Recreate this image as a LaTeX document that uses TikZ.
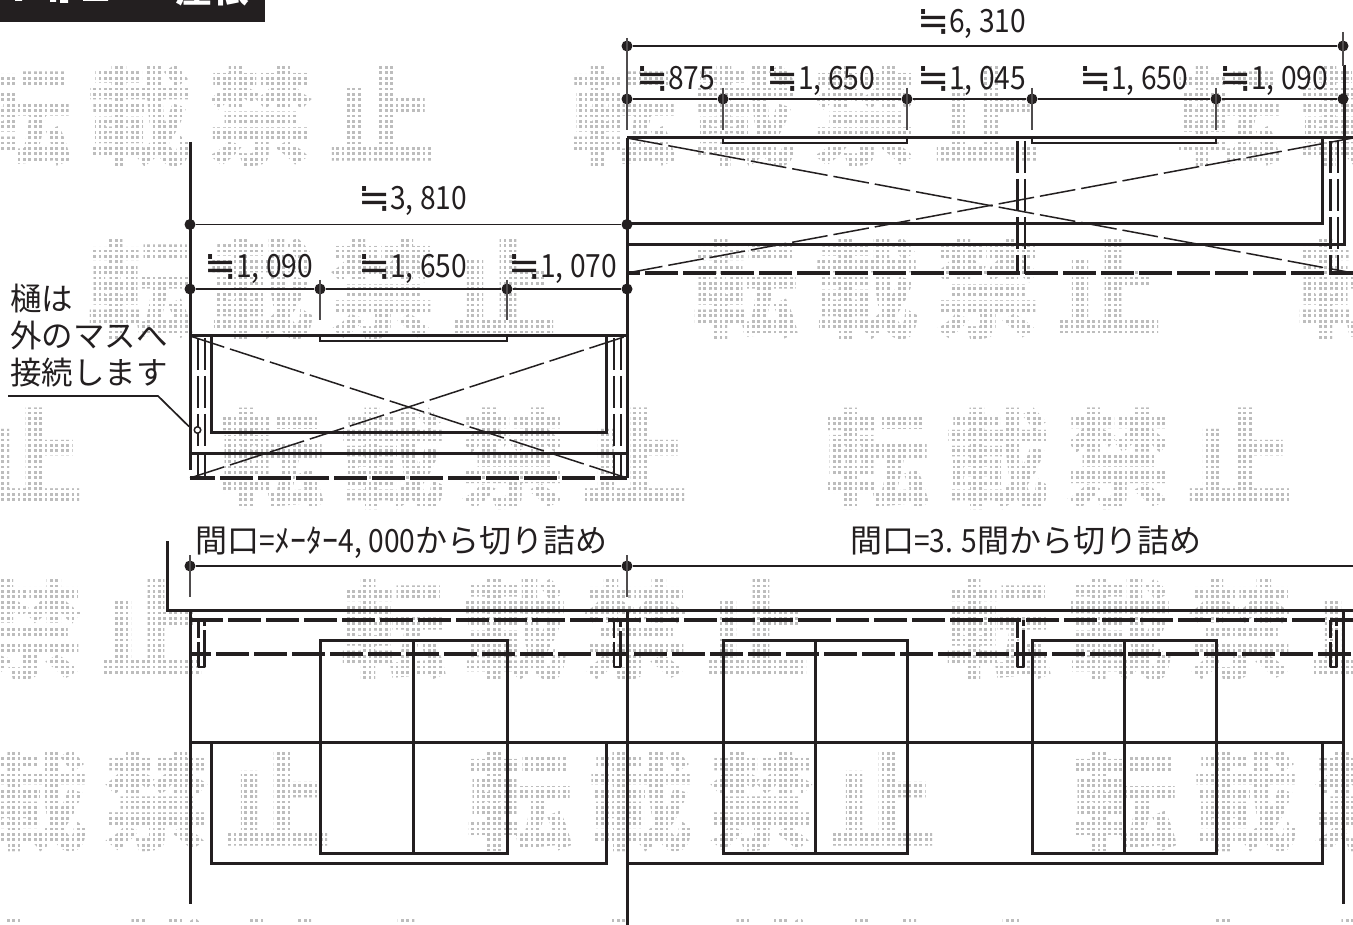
\documentclass[tikz,border=0pt]{standalone}
\usepackage{fontspec}
\newfontfamily\jp{Noto Sans CJK JP}
\newfontfamily\num[FakeStretch=0.88]{Noto Sans CJK JP}
\newfontfamily\sym{DejaVu Sans}
\definecolor{ink}{HTML}{231F20}
\newcommand{\dimtxt}[1]{\makebox[0.98em][c]{\sym\raisebox{-1.2pt}{\scalebox{1.2}[1.25]{≒}}}{\num #1}}
\newcommand{\wmark}{{\jp\bfseries 転\hskip 14pt 載\hskip 14pt 禁\hskip 14pt 止}}
\tikzset{
  thick line/.style={draw=ink,line width=3pt,line cap=butt},
  mid line/.style={draw=ink,line width=2.6pt},
  thin line/.style={draw=ink,line width=1.7pt},
  tick line/.style={draw=ink!80,line width=1.5pt},
  heavy dash/.style={draw=ink,line width=3.1pt,dash pattern=on 33pt off 5pt},
  rafter dash/.style={draw=ink,line width=2.8pt,dash pattern=on 32pt off 6pt},
  cross dash/.style={draw=ink,line width=1.5pt,dash pattern=on 36pt off 6pt},
  dimdot/.style={circle,fill=ink,inner sep=0pt,minimum size=11pt},
  dimlabel/.style={anchor=base,inner sep=0pt,font=\fontsize{32}{32}\selectfont,text=ink},
  jplabel/.style={anchor=base west,inner sep=0pt,font=\fontsize{31.5}{31.5}\selectfont\jp,text=ink},
  wmlabel/.style={anchor=west,inner sep=0pt,font=\fontsize{107}{107}\selectfont,text=black!26},
}
\begin{document}
\begin{tikzpicture}[x=1pt,y=-1pt]
\useasboundingbox (0,0) rectangle (1353,925);
\clip (0,0) rectangle (1353,925);
\fill[white] (0,0) rectangle (1353,925);
% watermark text, broken into dots by a white grid
\foreach \yy/\xx [count=\r] in {116/-35,289/87,459/218,630/340,801/466,969/590}{
  \foreach \k in {-1,0,1,2}{
    \node[wmlabel] (wm\r k\k) at ({\xx+605*\k},\yy) {\wmark};
  }
}
\draw[white,line width=2.6pt,step=5.4pt] (0,0) grid (1353,925);
% header
\fill[ink] (0,0) rectangle (265,22);
\node[anchor=base west,inner sep=0pt,text=white,font=\fontsize{37}{37}\selectfont\jp\bfseries] (head) at (175,3) {屋根};
\fill[white] (15,0) rectangle (22,1) (50,0) rectangle (56,2) (60,0) rectangle (68,3) (83,0) rectangle (108,1);

% ---------- upper right unit
\draw[cross dash] (627,138) -- (1353,273);
\draw[cross dash] (627,273) -- (1353,138);
\draw[thick line] (627,138) -- (1353,138);
\draw[thick line] (627,224) -- (1322,224) -- (1322,138);
\draw[thick line] (627,245) -- (1344,245);
\draw[heavy dash,dash phase=20] (627,273) -- (1353,273);
\draw[mid line] (723,138) -- (723,143) -- (907,143) -- (907,138);
\draw[mid line] (1032,138) -- (1032,143) -- (1216,143) -- (1216,138);
\draw[rafter dash] (1017.5,141) -- (1017.5,274);
\draw[rafter dash] (1025,141) -- (1025,274);
\draw[rafter dash] (1330.5,141) -- (1330.5,274);
\draw[rafter dash] (1338,141) -- (1338,274);
\draw[thick line] (1344,65) -- (1344,246);
\draw[thick line] (627,138) -- (627,478);

% ---------- upper left unit
\draw[cross dash] (190,336) -- (627,478);
\draw[cross dash] (190,478) -- (627,336);
\draw[thick line] (190,142) -- (190,470);
\draw[thick line] (190,336) -- (627,336);
\draw[thick line] (211,336) -- (211,432) -- (606,432) -- (606,336);
\draw[thick line] (190,453) -- (627,453);
\draw[heavy dash,dash phase=8] (190,478) -- (627,478);
\draw[mid line] (320,336) -- (320,341) -- (507,341) -- (507,336);
\draw[rafter dash] (198,338) -- (198,479);
\draw[rafter dash] (205,338) -- (205,479);
\draw[rafter dash] (614,338) -- (614,479);
\draw[rafter dash] (621,338) -- (621,479);
\node[circle,draw=ink,fill=white,line width=1.5pt,inner sep=0pt,minimum size=6.5pt] (drain) at (197.5,430) {};
\coordinate (lead a) at (8,396);
\coordinate (lead b) at (158,396);
\coordinate (lead c) at (189,426.5);
\draw[thin line] (lead a) -- (lead b) -- (lead c);

% ---------- dimension points, upper
\foreach \n/\x/\y in {a/627/46,b/1343/46,c/627/99,d/723/99,e/907/99,f/1032/99,g/1216/99,h/1343/99,
  i/190/224.5,j/627/224.5,k/190/289,l/320/289,m/507/289,n/627/289,o/190/566,p/627/566}{
  \node[dimdot] (\n) at (\x,\y) {};
}
\coordinate (dim right) at (1353,566);
\draw[thin line] (a) -- (b);
\draw[thin line] (c) -- (d) -- (e) -- (f) -- (g) -- (h);
\draw[thin line] (i) -- (j);
\draw[thin line] (k) -- (l) -- (m) -- (n);
\draw[thin line] (o) -- (p) -- (dim right);
\draw[tick line] (a.center) ++(0,-8) -- ++(0,92);
\draw[tick line] (b.center) ++(0,-14) -- ++(0,34);
\foreach \t in {d,e,f,g}{ \draw[tick line] (\t.center) ++(0,-11) -- ++(0,42); }
\foreach \t in {l,m}{ \draw[tick line] (\t.center) ++(0,-9) -- ++(0,40); }
\foreach \t in {o,p}{ \draw[tick line] (\t.center) ++(0,-11) -- ++(0,42); }

% ---------- elevation
\draw[thick line] (167,541) -- (167,610) -- (1353,610);
\draw[heavy dash,dash phase=0] (190,620) -- (1353,620);
\draw[heavy dash,dash phase=12] (190,654) -- (1353,654);
\draw[thick line] (190,610) -- (190,904);
\draw[thick line] (627,610) -- (627,925);
\draw[thick line] (1343.5,610) -- (1343.5,904);
\foreach \xa/\xb in {198.5/204.5,614/620.5,1017.5/1023.5,1330.5/1336.5}{
  \draw[draw=ink,line width=2.6pt,dash pattern=on 18pt off 4pt on 50pt off 0pt,line join=round] (\xa,620) -- (\xa,667) -- (\xb,667) -- (\xb,620);
}
\draw[thick line] (190,742) -- (1343,742);
\foreach \xa/\xm/\xb in {320/413.5/507,723/815/907,1032/1124/1216}{
  \draw[thick line,line join=miter] (\xa,853) rectangle (\xb,640.5);
  \draw[thick line] (\xm,640.5) -- (\xm,853);
}
\draw[thick line] (211,742) -- (211,863) -- (606,863) -- (606,742);
\draw[thick line] (627,863) -- (1322,863) -- (1322,742);

% ---------- labels
\node[dimlabel] (t1) at (972,33) {\dimtxt{6, 310}};
\node[dimlabel] (t2) at (676,90) {\dimtxt{875}};
\node[dimlabel] (t3) at (821,90) {\dimtxt{1, 650}};
\node[dimlabel] (t4) at (972,90) {\dimtxt{1, 045}};
\node[dimlabel] (t5) at (1134,90) {\dimtxt{1, 650}};
\node[dimlabel] (t6) at (1274,90) {\dimtxt{1, 090}};
\node[dimlabel] (t7) at (413,210) {\dimtxt{3, 810}};
\node[dimlabel] (t8) at (259,278) {\dimtxt{1, 090}};
\node[dimlabel] (t9) at (413,278) {\dimtxt{1, 650}};
\node[dimlabel] (t10) at (563,278) {\dimtxt{1, 070}};
\node[jplabel] (n1) at (10,311) {樋は};
\node[jplabel] (n2) at (10,348) {外のマスへ};
\node[jplabel] (n3) at (10,385) {接続します};
\node[jplabel,font=\fontsize{32}{32}\selectfont\jp] (w1) at (195,552) {間口{\num =}ﾒｰﾀｰ{\num 4, 000}から切り詰め};
\node[jplabel,font=\fontsize{32}{32}\selectfont\jp] (w2) at (850,552) {間口{\num =3. 5}間から切り詰め};
\end{tikzpicture}
\end{document}
